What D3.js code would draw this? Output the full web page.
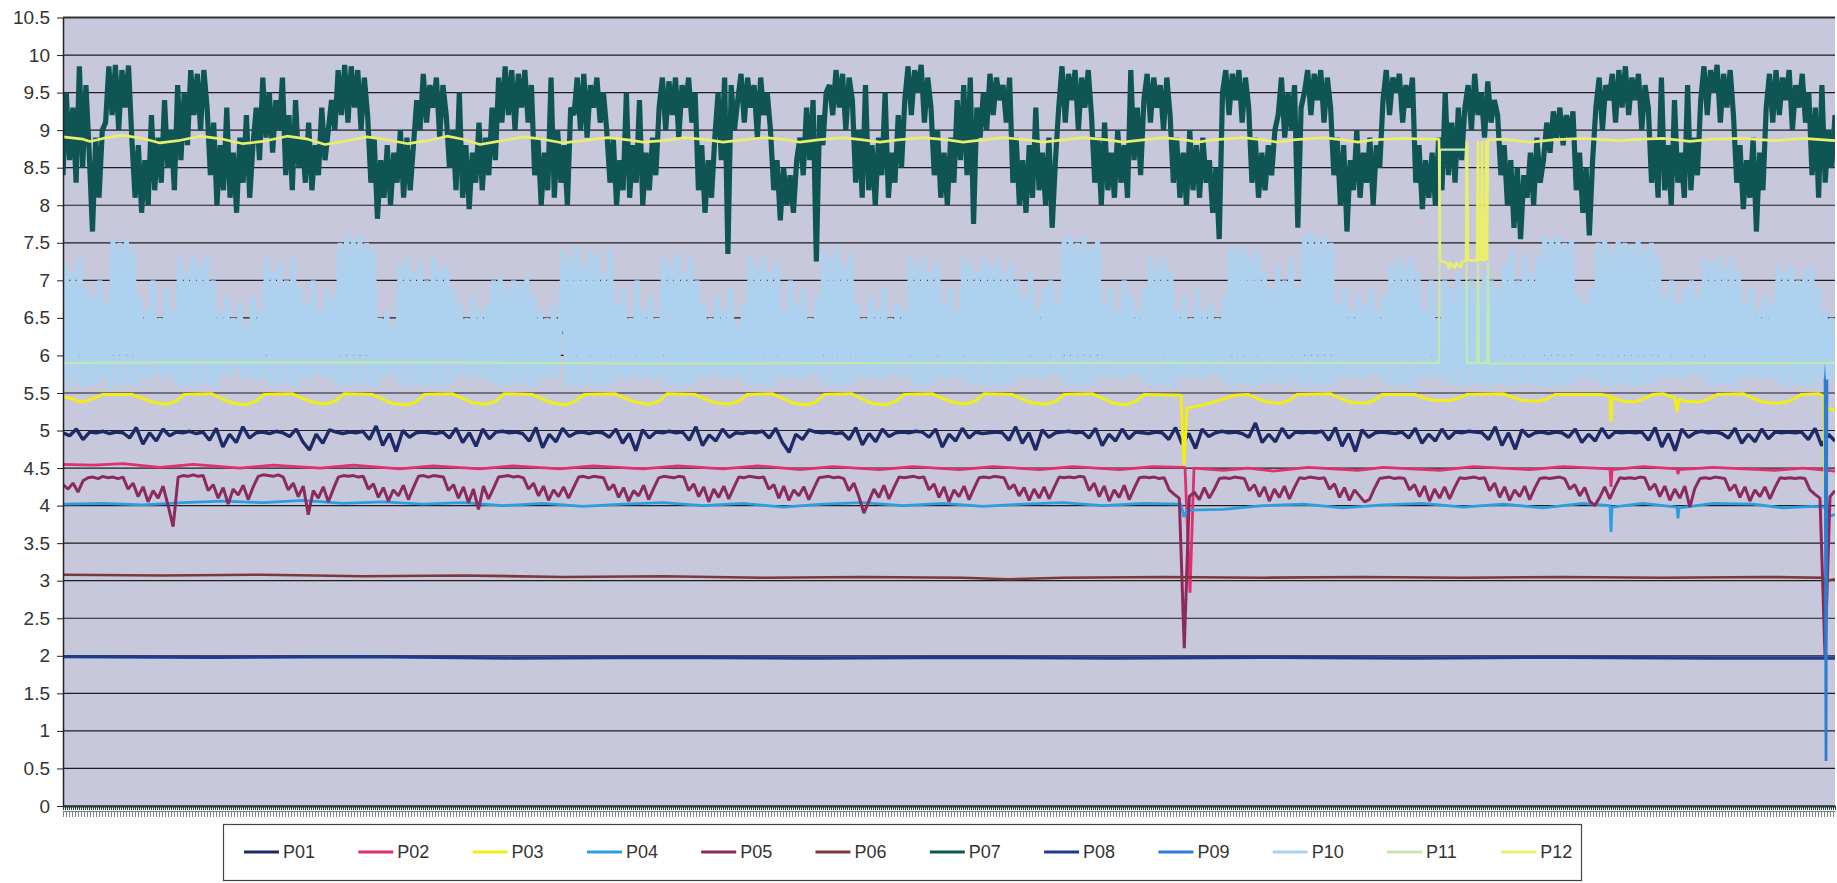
<!DOCTYPE html>
<meta charset="utf-8">
<style>
body { margin: 0; background: #fff; }
svg { display: block; font-family: "Liberation Sans", Arial, sans-serif; }
.axis--y text { font-size: 19px; fill: #333; }
.axis--y path, .axis--y line { stroke: #222; }
.grid line { stroke: #1e1e1e; stroke-width: 1.2px; }
.line { fill: none; stroke-linejoin: bevel; }
.legend text { font-size: 18px; fill: #333; }
</style>
<svg width="1837" height="883"></svg>
<script src="https://d3js.org/d3.v7.min.js"></script>
<script>

// sample index runs 0..nSamples along the category axis
var nSamples = 1772;

var names = ["P01", "P02", "P03", "P04", "P05", "P06", "P07", "P08", "P09", "P10", "P11", "P12"];
var colors = ["#1e2a66", "#e0306e", "#f2ec18", "#2c9ee0", "#8a2a5e", "#7a3a3a",
              "#0f5556", "#1f3a8f", "#2a7fd4", "#acd2ef", "#c2e8b2", "#e9ee6c"];

var yTicks = [0, 0.5, 1, 1.5, 2, 2.5, 3, 3.5, 4, 4.5, 5, 5.5, 6, 6.5, 7, 7.5, 8, 8.5, 9, 9.5, 10, 10.5];

// evenly sampled noisy series
var p01 = [4.97,4.93,5.02,4.88,4.98,4.97,4.99,4.96,4.98,4.97,
  4.9,5.04,4.82,4.97,4.86,5.02,4.93,4.98,4.97,4.99,4.96,4.98,
  4.87,5.03,4.78,4.95,4.84,5.05,4.9,4.97,4.98,4.96,4.99,4.97,
  4.92,5.02,4.85,4.74,4.95,4.83,5.01,4.98,4.96,4.98,4.97,4.99,
  4.88,5.06,4.8,4.96,4.72,5.0,4.91,4.97,4.98,4.97,4.96,4.98,
  4.9,5.03,4.84,4.97,4.79,5.02,4.89,4.98,4.99,4.97,4.98,4.96,
  4.86,5.04,4.77,4.95,4.85,5.03,4.92,4.97,4.98,4.96,4.98,4.97,
  4.91,5.02,4.83,4.96,4.73,5.01,4.9,4.98,4.97,4.99,4.97,4.98,
  4.87,5.05,4.8,4.94,4.86,5.02,4.91,4.97,4.96,4.98,4.97,4.99,
  4.9,5.03,4.84,4.71,4.95,4.88,5.01,4.98,4.97,4.98,4.96,4.97,
  4.88,5.04,4.81,4.96,4.85,5.02,4.92,4.97,4.98,4.97,4.99,4.98,
  4.91,5.02,4.78,4.95,4.86,5.03,4.9,4.98,4.96,4.97,4.98,4.97,
  4.87,5.05,4.83,4.97,4.74,5.01,4.91,4.97,4.98,4.99,4.97,4.98,
  4.9,5.03,4.8,4.95,4.86,5.02,4.89,4.98,4.97,4.96,4.98,4.97,
  4.88,5.04,4.82,4.96,4.76,5.02,4.92,4.97,4.99,4.97,4.98,4.96,
  4.91,5.1,4.84,4.95,4.85,5.03,4.9,4.98,4.97,4.98,4.97,4.99,
  4.87,5.04,4.79,4.96,4.72,5.01,4.91,4.97,4.98,4.97,4.96,4.98,
  4.9,5.03,4.83,4.95,4.86,5.02,4.89,4.98,4.97,4.99,4.98,4.97,
  4.88,5.05,4.8,4.97,4.75,5.01,4.92,4.97,4.98,4.96,4.98,4.97,
  4.91,5.02,4.84,4.95,4.86,5.03,4.9,4.98,4.97,4.98,4.97,4.98,
  4.87,5.04,4.78,4.96,4.73,5.02,4.91,4.97,4.99,4.97,4.98,4.96,
  4.9,5.03,4.83,4.95,4.85,5.02,4.89,4.98,4.97,4.98,4.97,4.98,
  4.88,5.03,4.8,4.95,4.86];

var p05 = [4.28,4.22,4.3,4.18,4.33,4.37,4.38,4.36,4.39,4.37,4.38,4.36,4.38,
  4.22,4.3,4.12,4.25,4.05,4.2,4.1,4.26,4.0,3.72,4.38,4.4,4.39,4.41,4.39,4.4,
  4.2,4.28,4.1,4.24,4.02,4.22,4.14,4.27,4.08,4.25,4.39,4.41,4.4,4.39,4.41,4.38,
  4.21,4.3,4.12,4.26,3.88,4.2,4.1,4.25,4.05,4.22,4.38,4.4,4.39,4.4,4.38,4.39,
  4.22,4.29,4.11,4.24,4.06,4.21,4.13,4.27,4.08,4.24,4.39,4.4,4.38,4.4,4.39,4.38,
  4.2,4.28,4.1,4.25,4.04,4.22,3.95,4.26,4.09,4.23,4.38,4.39,4.4,4.38,4.39,4.37,
  4.22,4.3,4.13,4.26,4.07,4.21,4.12,4.25,4.1,4.24,4.38,4.39,4.37,4.39,4.38,4.37,
  4.21,4.28,4.11,4.24,4.06,4.2,4.13,4.27,4.08,4.23,4.37,4.39,4.38,4.37,4.39,4.38,
  4.2,4.29,4.12,4.25,4.05,4.22,4.11,4.26,4.09,4.24,4.38,4.37,4.39,4.38,4.37,4.38,
  4.22,4.28,4.1,4.26,4.07,4.21,4.13,4.25,4.08,4.23,4.37,4.38,4.39,4.37,4.38,4.36,
  4.2,4.3,4.12,3.9,4.06,4.22,4.11,4.27,4.09,4.24,4.38,4.37,4.38,4.39,4.37,4.38,
  4.21,4.29,4.11,4.25,4.05,4.21,4.12,4.26,4.08,4.23,4.37,4.38,4.37,4.39,4.38,4.37,
  4.22,4.28,4.13,4.24,4.07,4.22,4.1,4.25,4.09,4.24,4.38,4.37,4.38,4.37,4.39,4.38,
  4.2,4.3,4.12,4.26,4.06,4.21,4.11,4.27,4.08,4.23,4.37,4.38,4.37,4.38,4.36,4.37,
  4.21,4.15,4.1,2.1,4.12,4.18,4.08,4.24,4.1,4.22,4.36,4.37,4.36,4.38,4.37,4.36,
  4.2,4.28,4.12,4.25,4.06,4.22,4.11,4.26,4.09,4.24,4.37,4.36,4.38,4.37,4.36,4.37,
  4.22,4.29,4.11,4.24,4.07,4.21,4.13,4.05,4.08,4.23,4.36,4.37,4.38,4.36,4.37,4.36,
  4.21,4.28,4.12,4.26,4.06,4.22,4.1,4.25,4.09,4.24,4.37,4.36,4.37,4.38,4.36,4.37,
  4.2,4.3,4.11,4.25,4.07,4.21,4.12,4.26,4.08,4.23,4.36,4.37,4.36,4.37,4.38,4.36,
  4.22,4.28,4.13,4.24,4.06,4.0,4.11,4.25,4.09,4.24,4.37,4.36,4.37,4.36,4.38,4.37,
  4.21,4.29,4.12,4.26,4.07,4.22,4.1,4.26,3.98,4.23,4.36,4.37,4.36,4.38,4.37,4.36,
  4.2,4.28,4.11,4.25,4.06,4.21,4.12,4.25,4.09,4.24,4.37,4.36,4.37,4.36,4.37,4.36,
  4.21,4.15,4.1,2.0,4.12,4.2];

var p07 = [8.4,9.5,8.6,9.3,8.3,9.85,8.5,9.6,8.7,
  7.65,8.9,8.1,9.0,
  9.1,9.85,9.2,9.87,9.0,9.8,9.3,9.86,8.9,
  8.1,8.8,7.9,8.6,8.0,9.2,8.2,
  8.9,8.3,9.4,8.5,9.0,8.2,9.6,8.6,9.5,8.8,9.8,
  9.2,9.75,9.0,9.8,9.3,
  8.4,9.1,8.0,8.8,8.2,9.3,8.1,8.7,7.9,8.9,8.3,9.2,8.1,8.8,
  9.3,8.6,9.7,8.9,9.5,8.7,9.4,9.0,9.7,
  8.4,9.2,8.2,9.4,8.5,8.9,8.3,9.1,8.2,8.8,8.4,9.3,8.6,9.0,
  9.4,9.0,9.8,9.2,9.87,9.1,9.85,9.3,9.8,9.0,9.7,9.2,
  8.3,8.9,7.82,8.6,8.1,8.8,8.0,8.7,8.3,9.0,8.1,8.9,8.2,8.8,
  9.4,9.0,9.75,9.1,9.6,9.3,9.7,8.9,9.6,9.2,
  8.5,9.0,8.2,9.5,8.1,8.8,7.95,8.7,8.3,9.1,8.2,8.9,8.4,9.3,8.6,
  9.7,9.1,9.85,9.2,9.8,9.0,9.75,9.3,9.8,9.1,9.6,
  8.4,8.9,8.0,8.7,8.2,9.7,8.1,9.0,8.3,8.8,8.0,9.3,
  9.2,9.7,9.0,9.75,8.9,9.6,9.3,9.7,9.1,9.5,9.0,
  8.3,8.9,8.0,8.6,8.2,9.5,8.1,8.8,8.3,9.4,8.0,8.7,8.2,8.9,8.4,
  9.3,9.7,9.0,9.65,9.2,9.7,8.9,9.6,9.3,9.7,9.1,9.5,
  8.2,8.8,7.9,8.6,8.1,8.9,
  9.5,8.6,9.7,7.35,9.6,9.0,
  9.4,9.75,9.1,9.7,9.3,9.6,8.9,9.7,9.2,9.5,9.0,
  8.2,8.6,7.8,8.5,8.0,8.4,7.9,8.6,
  8.9,8.4,9.3,8.6,9.4,7.25,9.2,8.8,9.5,
  9.6,9.2,9.8,9.3,9.75,9.0,9.7,9.4,
  8.3,9.0,8.1,9.6,8.2,8.8,8.0,8.9,8.4,9.5,8.1,8.7,8.3,9.2,8.5,
  9.4,9.85,9.2,9.8,9.5,9.87,9.1,9.7,9.3,
  8.4,9.0,8.1,8.7,8.0,8.9,8.3,9.4,8.6,
  9.6,8.4,9.7,7.75,9.3,8.9,
  9.5,9.0,9.75,9.2,9.7,9.4,9.6,9.1,9.7,
  8.3,8.9,8.0,8.6,7.9,8.8,8.1,9.3,8.2,8.7,8.0,8.9,7.7,8.6,
  9.3,9.85,9.1,9.75,9.4,9.8,9.0,9.7,9.3,9.8,9.2,
  8.3,8.9,8.0,9.1,8.2,8.7,8.1,9.0,8.3,8.8,8.1,9.8,
  8.6,9.3,8.4,
  9.4,9.75,9.1,9.7,9.3,9.6,9.0,9.7,9.2,
  8.3,8.9,8.1,8.7,8.0,9.0,8.2,8.8,8.1,8.9,8.3,8.6,7.9,8.5,7.55,
  9.5,9.8,9.2,9.75,9.4,9.8,9.1,9.7,9.3,
  8.3,8.9,8.1,8.7,8.2,8.8,8.4,9.0,
  9.2,9.7,8.9,9.5,9.0,9.6,7.7,9.3,
  9.5,9.8,9.2,9.75,9.4,9.8,9.1,9.7,9.3,
  8.4,8.9,8.0,8.8,7.65,8.6,8.2,9.0,8.1,8.7,8.3,8.9,8.0,8.8,8.5,
  9.4,9.8,9.2,9.7,9.5,9.75,9.1,9.6,9.3,9.7,
  8.3,8.8,7.95,8.6,8.1,8.7,8.0,
  8.9,8.2,9.5,8.4,9.1,8.3,9.3,8.6,
  9.3,9.6,9.0,9.75,9.2,9.5,8.9,9.65,9.1,9.4,9.2,
  8.4,8.8,8.0,8.6,7.7,8.5,7.55,8.4,8.1,8.7,8.0,8.9,8.3,8.6,
  9.1,8.7,9.25,8.9,9.3,8.8,9.2,8.9,9.25,
  8.2,8.7,7.9,8.5,7.6,8.6,
  9.3,9.7,9.0,9.6,9.4,9.75,9.1,9.8,9.3,9.85,9.2,9.7,9.4,9.75,9.0,9.6,9.3,
  8.3,8.9,8.1,9.7,8.2,8.8,8.0,9.4,8.3,8.7,8.1,9.6,8.2,8.9,8.4,
  9.4,9.85,9.2,9.8,9.5,9.87,9.1,9.75,9.3,9.8,9.2,
  8.3,8.8,7.95,8.6,8.1,8.9,7.65,8.7,8.2,
  9.3,9.75,9.1,9.8,9.2,9.7,9.4,9.8,9.0,9.6,9.3,9.75,9.1,9.5,
  8.4,9.3,8.1,9.6,8.3,9.0,8.5,9.2];

var p10 = [5.6,7.2,5.58,7.1,5.65,7.3,5.57,6.9,5.6,
  6.8,5.62,7.0,5.7,6.7,
  5.56,7.55,5.6,7.5,5.58,7.55,5.62,7.4,5.6,
  6.8,5.7,6.6,5.65,7.0,5.75,6.5,5.68,6.9,5.72,6.6,5.6,
  7.3,5.58,7.1,5.6,7.35,5.57,7.2,5.62,7.3,5.6,7.0,5.58,
  6.6,5.75,6.8,5.7,6.5,5.8,6.7,5.68,6.4,5.72,6.8,5.65,6.6,5.7,
  7.3,5.6,7.1,5.58,7.25,5.62,7.0,5.6,7.3,5.57,6.9,
  5.7,6.7,5.65,7.0,5.75,6.6,5.7,6.9,5.68,6.8,5.6,
  7.5,5.57,7.62,5.6,7.55,5.58,7.6,5.62,7.5,5.6,7.4,5.58,
  6.5,5.7,6.6,5.75,6.4,5.65,
  7.2,5.6,7.3,5.57,7.1,5.62,7.25,5.58,7.0,5.6,7.3,5.6,7.15,5.57,7.2,5.62,6.9,
  5.7,6.7,5.75,6.5,5.68,6.8,5.72,6.6,5.7,6.7,5.65,
  7.0,5.6,7.05,5.58,6.9,5.6,7.0,5.62,6.95,5.6,7.05,5.58,6.8,5.6,
  6.6,5.7,6.5,5.68,6.7,5.72,6.4,
  7.4,5.58,7.3,5.6,7.45,5.57,7.2,5.62,7.4,5.6,7.35,5.58,7.1,5.6,7.4,5.62,
  6.7,5.7,6.9,5.65,6.5,5.75,7.0,5.68,6.6,5.72,6.8,5.66,6.5,5.7,
  7.3,5.58,7.2,5.6,7.35,5.57,7.1,5.62,7.3,5.6,7.0,
  5.72,6.7,5.68,6.5,5.75,6.8,5.7,6.6,5.66,6.9,5.72,6.4,5.7,6.7,
  5.6,7.3,5.58,7.2,5.62,7.3,5.6,7.1,5.57,7.25,
  5.7,6.6,5.68,7.0,5.72,6.7,5.66,6.9,5.7,6.5,5.75,6.8,5.65,
  7.4,5.58,7.3,5.6,7.45,5.57,7.2,5.62,7.35,5.6,
  6.7,5.7,6.5,5.68,6.8,5.72,6.6,5.66,6.9,5.7,6.5,5.75,6.7,5.68,6.6,5.7,
  7.3,5.58,7.2,5.6,7.3,5.57,7.1,5.62,7.25,
  5.7,6.7,5.66,6.9,5.72,6.6,5.68,7.3,5.6,7.2,5.62,7.1,5.6,
  7.3,5.58,7.2,5.6,7.3,5.57,7.1,5.62,7.25,5.6,7.0,
  5.7,6.8,5.68,7.1,5.72,6.6,5.66,6.9,5.7,7.0,5.75,6.7,5.68,
  7.55,5.58,7.6,5.6,7.5,5.57,7.6,5.62,7.45,5.6,7.55,
  5.7,6.7,5.68,6.9,5.72,6.6,5.66,7.0,5.7,6.8,5.75,6.6,5.68,6.9,
  5.6,7.3,5.58,7.2,5.62,7.3,5.6,7.1,5.57,
  6.6,5.7,6.8,5.68,6.5,5.72,6.9,5.66,6.6,5.7,6.7,5.75,6.5,5.68,6.8,
  5.6,7.45,5.58,7.4,5.62,7.45,5.6,7.3,5.57,7.4,
  5.62,7.1,5.6,6.9,5.65,7.2,5.62,7.0,5.6,7.3,5.66,6.9,5.6,
  7.6,5.57,7.65,5.6,7.55,5.58,7.6,5.62,7.5,5.6,
  6.7,5.7,6.9,5.68,6.6,5.72,6.8,5.66,6.7,5.7,6.9,5.75,6.6,5.68,6.8,
  5.6,7.2,5.58,7.3,5.62,7.2,5.6,7.3,5.57,7.1,
  5.7,6.6,5.68,7.0,5.72,6.5,5.66,
  7.0,5.6,6.9,5.62,7.1,5.58,6.95,5.6,7.0,5.62,6.9,5.6,7.1,5.58,7.0,5.6,6.9,
  5.62,7.2,5.6,7.4,5.58,7.0,5.6,7.35,5.62,7.1,5.6,7.3,5.58,
  7.6,5.57,7.55,5.6,7.6,5.58,7.5,5.62,7.55,5.6,
  6.8,5.7,6.7,5.68,6.9,5.66,
  7.5,5.58,7.55,5.6,7.4,5.57,7.55,5.62,7.5,5.6,7.45,5.58,7.55,5.6,7.4,5.62,7.5,5.6,7.3,
  5.7,6.8,5.68,7.0,5.72,6.7,5.66,6.9,5.7,7.0,5.75,6.8,5.68,
  7.3,5.6,7.25,5.58,7.3,5.62,7.2,5.6,7.3,5.57,7.1,
  5.7,6.7,5.68,6.9,5.72,6.6,5.66,6.8,5.7,6.7,5.68,
  7.2,5.6,7.1,5.58,7.2,5.62,7.0,5.6,7.15,5.57,7.2,5.6,6.9,
  5.7,6.6,5.68,6.5,5.7];

// smoother series as [sample, value]
var p02 = [[0,4.55],[30,4.54],[60,4.56],[97,4.51],[130,4.55],[177,4.50],[210,4.54],[257,4.50],[290,4.54],
  [337,4.49],[370,4.53],[417,4.49],[450,4.53],[497,4.49],[530,4.53],[580,4.49],[615,4.53],[660,4.49],
  [695,4.53],[737,4.48],[770,4.52],[817,4.48],[850,4.52],[897,4.48],[930,4.52],[977,4.48],[1010,4.52],
  [1057,4.48],[1090,4.52],[1122,4.51],[1127,2.84],[1131,4.50],[1160,4.47],[1185,4.50],[1210,4.46],
  [1245,4.51],[1295,4.47],[1320,4.51],[1377,4.47],[1410,4.52],[1467,4.48],[1500,4.52],[1547,4.49],
  [1548,4.25],[1549,4.48],[1580,4.52],[1614,4.49],[1615,4.42],[1616,4.48],[1650,4.51],[1712,4.47],
  [1740,4.50],[1772,4.46]];

var p03 = [[0,5.45],[10,5.42],[17,5.38],[25,5.40],[40,5.48],
  [69,5.48],[79,5.43],[89,5.38],[103,5.35],[113,5.39],[121,5.48],
  [149,5.49],[159,5.42],[169,5.37],[183,5.34],[193,5.39],[201,5.48],
  [229,5.49],[239,5.43],[249,5.38],[263,5.35],[273,5.40],[281,5.49],
  [309,5.48],[319,5.42],[329,5.36],[343,5.34],[353,5.38],[361,5.48],
  [389,5.49],[399,5.43],[409,5.37],[423,5.35],[433,5.39],[441,5.49],
  [469,5.48],[479,5.42],[489,5.37],[503,5.34],[513,5.40],[521,5.48],
  [552,5.49],[562,5.43],[572,5.38],[586,5.35],[596,5.39],[604,5.49],
  [632,5.48],[642,5.42],[652,5.37],[666,5.35],[676,5.39],[684,5.48],
  [709,5.49],[719,5.43],[729,5.37],[743,5.34],[753,5.38],[761,5.48],
  [789,5.49],[799,5.42],[809,5.36],[823,5.34],[833,5.39],[841,5.48],
  [869,5.49],[879,5.43],[889,5.38],[903,5.35],[913,5.40],[921,5.49],
  [949,5.48],[959,5.42],[969,5.37],[983,5.35],[993,5.39],[1001,5.48],
  [1029,5.49],[1039,5.43],[1049,5.37],[1063,5.34],[1073,5.39],[1081,5.48],
  [1118,5.47],[1121,4.54],[1124,5.30],[1140,5.34],[1160,5.42],[1172,5.47],
  [1185,5.48],[1195,5.42],[1205,5.38],[1216,5.36],[1226,5.40],[1234,5.48],
  [1267,5.49],[1277,5.43],[1287,5.38],[1301,5.36],[1311,5.40],[1319,5.48],
  [1352,5.48],[1362,5.43],[1372,5.40],[1386,5.40],[1396,5.43],[1404,5.48],
  [1440,5.49],[1450,5.44],[1460,5.40],[1474,5.39],[1484,5.42],[1492,5.48],
  [1538,5.48],[1547,5.46],[1548,5.11],[1549,5.44],[1560,5.39],[1572,5.38],[1582,5.43],[1590,5.48],
  [1600,5.49],[1612,5.43],[1614,5.25],[1616,5.42],[1622,5.39],[1636,5.38],[1646,5.42],[1654,5.48],
  [1680,5.49],[1690,5.43],[1700,5.38],[1716,5.36],[1728,5.40],[1738,5.48],
  [1756,5.49],[1761,5.45],[1762,4.25],[1764,5.30],[1772,5.27]];

var p04 = [[0,4.02],[40,4.03],[80,4.01],[120,4.04],[160,4.06],[200,4.04],[240,4.07],[280,4.03],[320,4.05],
  [360,4.02],[400,4.04],[440,4.00],[480,4.03],[520,3.99],[560,4.02],[600,4.04],[640,4.00],[680,4.03],
  [720,3.98],[760,4.02],[800,4.04],[840,4.00],[880,4.03],[920,3.99],[960,4.02],[1000,4.04],[1040,4.00],
  [1080,4.03],[1118,4.02],[1121,3.85],[1124,3.94],[1160,3.95],[1200,4.00],[1240,4.02],[1280,3.97],
  [1320,4.01],[1360,4.03],[1400,3.98],[1440,4.02],[1480,3.97],[1520,4.03],[1547,4.00],[1548,3.65],
  [1549,3.98],[1580,4.03],[1614,3.98],[1615,3.83],[1616,3.97],[1650,4.03],[1690,4.02],[1720,3.97],
  [1750,3.99],[1762,3.98],[1764,3.85],[1772,3.88]];

var p06 = [[0,3.08],[100,3.07],[200,3.08],[300,3.06],[400,3.07],[500,3.05],[600,3.06],[700,3.04],
  [800,3.05],[900,3.04],[945,3.02],[1000,3.04],[1100,3.05],[1200,3.04],[1300,3.05],[1400,3.04],
  [1500,3.05],[1600,3.04],[1700,3.05],[1761,3.04],[1762,2.3],[1763,3.00],[1772,3.02]];

var p08 = [[0,1.99],[150,1.98],[300,1.99],[450,1.97],[600,1.98],[750,1.97],[900,1.98],[1050,1.97],
  [1200,1.98],[1350,1.97],[1500,1.98],[1650,1.97],[1772,1.97]];

var p09 = [[0,6.30],[150,6.31],[300,6.29],[450,6.30],[600,6.31],[750,6.29],[900,6.30],[1050,6.31],
  [1200,6.29],[1350,6.30],[1500,6.31],[1650,6.30],[1762,6.30],[1763,0.6],[1764,6.20],[1772,6.28]];

var p11 = [[0,5.90],[300,5.91],[600,5.89],[900,5.90],[1200,5.90],[1376,5.90],[1377,8.74],[1403,8.74],
  [1404,5.90],[1414,5.90],[1415,7.25],[1416,5.90],[1424,5.90],[1425,7.25],[1426,5.89],[1772,5.90]];

var p12 = [[0,8.91],[20,8.88],[27,8.85],[40,8.89],[59,8.93],[80,8.89],[97,8.83],[115,8.86],[137,8.92],
  [160,8.88],[180,8.82],[200,8.85],[224,8.92],[245,8.88],[262,8.81],[280,8.85],[304,8.91],[325,8.87],
  [345,8.82],[365,8.86],[384,8.92],[400,8.88],[417,8.81],[435,8.85],[460,8.91],[480,8.88],[500,8.83],
  [520,8.86],[545,8.90],[565,8.87],[580,8.84],[600,8.86],[622,8.90],[645,8.87],[660,8.84],[680,8.87],
  [702,8.90],[725,8.87],[737,8.84],[755,8.87],[780,8.90],[800,8.87],[817,8.84],[835,8.87],[860,8.90],
  [885,8.87],[900,8.84],[920,8.87],[940,8.90],[965,8.87],[980,8.84],[1000,8.87],[1020,8.90],[1045,8.87],
  [1060,8.84],[1080,8.87],[1100,8.90],[1122,8.87],[1135,8.84],[1150,8.87],[1180,8.90],[1200,8.87],
  [1214,8.84],[1230,8.87],[1260,8.90],[1280,8.87],[1295,8.84],[1310,8.87],[1340,8.89],[1360,8.88],
  [1376,8.88],[1377,7.27],[1385,7.22],[1386,7.15],[1387,7.24],[1392,7.16],[1393,7.24],[1398,7.17],
  [1399,7.25],[1403,7.26],[1404,8.86],[1405,7.27],[1414,7.26],[1415,8.86],[1416,7.27],[1418,7.27],
  [1419,8.86],[1420,7.27],[1422,7.26],[1423,8.86],[1424,7.27],[1425,8.87],[1440,8.88],[1467,8.84],
  [1490,8.87],[1520,8.89],[1557,8.86],[1580,8.88],[1600,8.89],[1627,8.85],[1650,8.88],[1680,8.89],
  [1712,8.86],[1740,8.89],[1772,8.86]];

// evenly spread a plain value list over the sample range
function spread(vals) {
  return vals.map(function(v, i) { return [i * nSamples / (vals.length - 1), v]; });
}

var seriesData = [spread(p01), p02, p03, p04, spread(p05), p06, spread(p07), p08, p09, spread(p10), p11, p12];
var strokeW = [3.4, 2.8, 3, 2.8, 3, 2.6, 5.2, 3.2, 2.8, 5, 2.2, 2.6];

var svg = d3.select("svg"),
    margin = {top: 17.5, right: 2, bottom: 77, left: 63},
    width = +svg.attr("width") - margin.left - margin.right,
    height = +svg.attr("height") - margin.top - margin.bottom;

var g = svg.append("g").attr("transform", "translate(" + margin.left + "," + margin.top + ")");

var x = d3.scaleLinear().domain([0, nSamples]).range([0, width]),
    y = d3.scaleLinear().domain([0, 10.5]).range([height, 0]);

// clip so that wide strokes stay inside the plot area
svg.append("clipPath").attr("id", "plot-clip")
  .append("rect").attr("width", width).attr("height", height);

// plot area
g.append("rect")
    .attr("width", width)
    .attr("height", height)
    .attr("fill", "#c7c8dc");

// horizontal gridlines
g.append("g")
    .attr("class", "grid")
  .selectAll("line")
  .data(yTicks)
  .enter().append("line")
    .attr("x1", 0)
    .attr("x2", width)
    .attr("y1", function(d) { return y(d); })
    .attr("y2", function(d) { return y(d); });

g.append("line")
    .attr("x1", 0).attr("x2", width)
    .attr("y1", y(10.5)).attr("y2", y(10.5))
    .attr("stroke", "#333").attr("stroke-width", 2);

var line = d3.line()
    .x(function(d) { return x(d[0]); })
    .y(function(d) { return y(d[1]); });

g.append("g")
    .attr("clip-path", "url(#plot-clip)")
  .selectAll(".line")
  .data(seriesData)
  .enter().append("path")
    .attr("class", "line")
    .attr("d", line)
    .style("stroke", function(d, i) { return colors[i]; })
    .style("stroke-width", function(d, i) { return strokeW[i]; });

// category axis: thousands of ticks squeezed into a band
g.append("g")
    .attr("transform", "translate(0," + height + ")")
    .call(d3.axisBottom(x).tickValues(d3.range(0, nSamples + 1, 2)).tickSize(4).tickSizeOuter(0).tickFormat(""))
    .call(function(a) {
      a.select(".domain").attr("stroke", "#1d3a30").attr("stroke-width", 2);
      a.selectAll(".tick line").attr("stroke", "#24403a");
    });

g.append("g")
    .attr("transform", "translate(0," + (height + 5) + ")")
    .call(d3.axisBottom(x).tickValues(d3.range(0, nSamples + 1, 3)).tickSize(6).tickSizeOuter(0).tickFormat(""))
    .call(function(a) {
      a.select(".domain").attr("stroke", "#6a7472").attr("stroke-width", 1);
      a.selectAll(".tick line").attr("stroke", "#7c8684");
    });

// value axis
g.append("g")
    .attr("class", "axis axis--y")
    .call(d3.axisLeft(y).tickValues(yTicks).tickSize(6).tickSizeOuter(0).tickPadding(7)
      .tickFormat(function(d) { return d; }))
    .call(function(a) { a.select(".domain").attr("stroke-width", 1.5); });

// legend
var legend = svg.append("g").attr("class", "legend");

legend.append("rect")
    .attr("x", 223.5)
    .attr("y", 824.5)
    .attr("width", 1358)
    .attr("height", 56)
    .attr("fill", "#fff")
    .attr("stroke", "#444")
    .attr("stroke-width", 1.2);

var item = legend.selectAll(".item")
  .data(names)
  .enter().append("g")
    .attr("class", "item")
    .attr("transform", function(d, i) { return "translate(" + (244 + i * 114.3) + ",852)"; });

item.append("line")
    .attr("x1", 0).attr("x2", 35)
    .attr("stroke", function(d, i) { return colors[i]; })
    .attr("stroke-width", 3);

item.append("text")
    .attr("x", 39)
    .attr("dy", "0.35em")
    .text(function(d) { return d; });

</script>
